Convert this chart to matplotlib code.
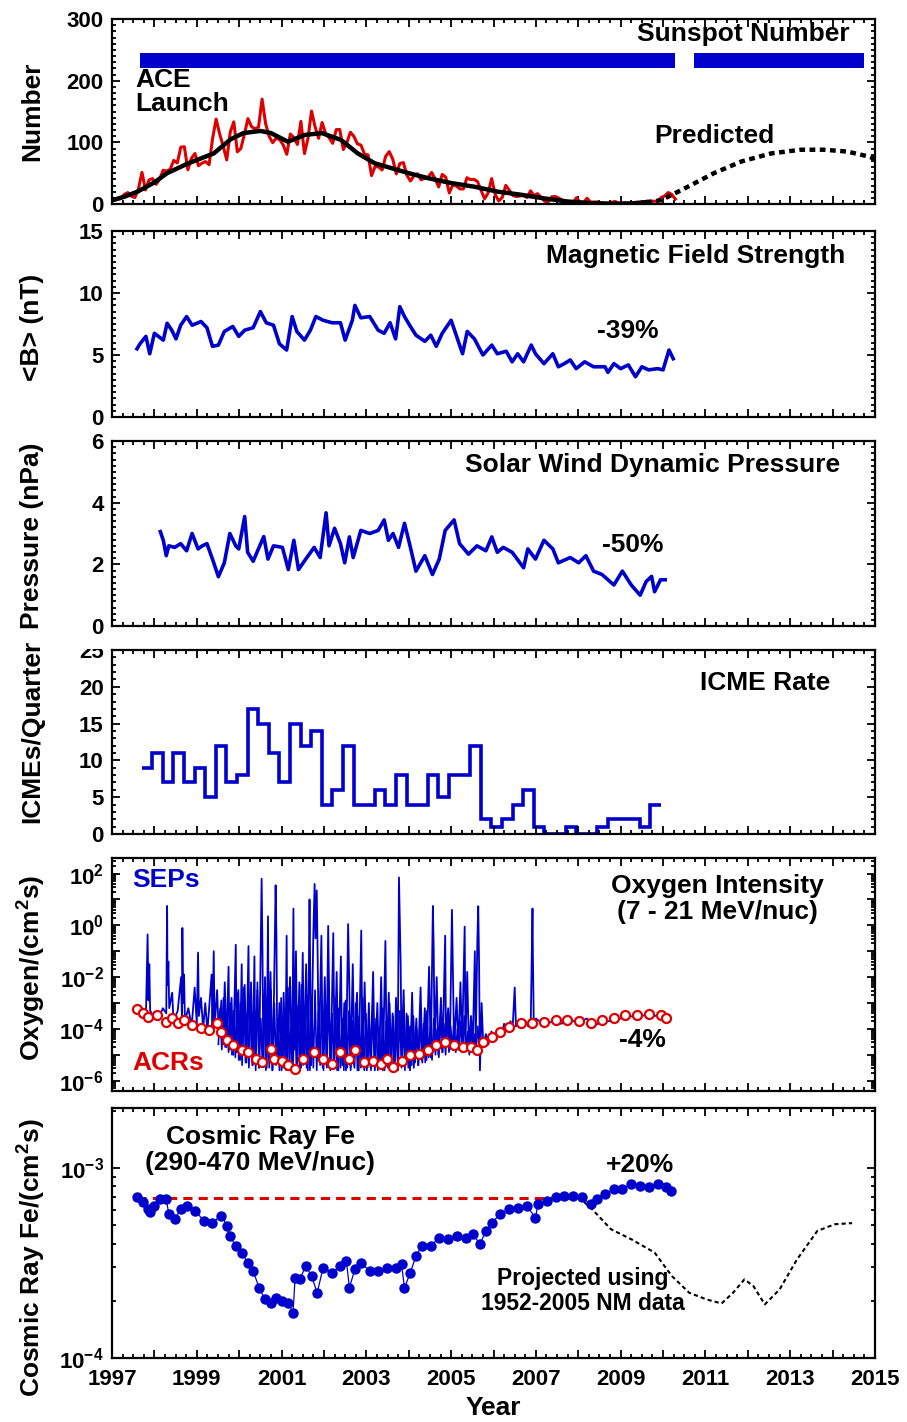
import numpy as np
import matplotlib.pyplot as plt
from matplotlib.ticker import MultipleLocator, LogLocator, FuncFormatter, NullFormatter
from matplotlib.transforms import Bbox, TransformedBbox

plt.rcParams['font.family'] = ['Liberation Sans', 'DejaVu Sans']
plt.rcParams['font.weight'] = 'bold'
plt.rcParams['axes.labelweight'] = 'bold'
plt.rcParams['mathtext.fontset'] = 'custom'
plt.rcParams['mathtext.rm'] = 'Liberation Sans:bold'
plt.rcParams['mathtext.bf'] = 'Liberation Sans:bold'
plt.rcParams['mathtext.it'] = 'Liberation Sans:bold'
plt.rcParams['mathtext.default'] = 'rm'
plt.rcParams['axes.linewidth'] = 1.6

BLUE = '#0000cc'
RED = '#dd0000'

# ---- sunspot number (monthly, 1997 Jan - 2010 Apr) ----
ssn_start = 1997.04
ssn_monthly = [5.7, 7.6, 8.7, 15.5, 18.5, 12.7, 10.4, 24.4, 51.3, 22.8, 39.0, 41.2,
               31.9, 40.3, 54.8, 53.4, 56.3, 70.7, 66.6, 92.2, 92.9, 55.5, 74.0, 81.9,
               62.0, 66.3, 68.8, 63.7, 106.4, 137.7, 113.5, 93.7, 71.5, 116.7, 133.2, 84.6,
               90.1, 112.9, 138.5, 125.5, 121.6, 124.9, 170.1, 130.5, 109.7, 99.4, 106.8, 104.4,
               95.6, 80.6, 113.5, 107.7, 96.6, 134.0, 81.8, 106.4, 150.7, 125.5, 106.5, 132.2,
               114.1, 107.4, 98.4, 120.7, 120.8, 88.3, 99.6, 116.4, 109.6, 97.5, 95.5, 80.8,
               79.7, 46.0, 61.1, 60.0, 55.2, 77.4, 85.0, 72.7, 48.8, 65.6, 67.2, 46.7,
               37.3, 45.8, 49.1, 39.3, 41.5, 43.2, 51.1, 40.9, 27.7, 48.0, 43.5, 17.9,
               31.3, 29.2, 24.5, 24.4, 42.6, 39.6, 39.9, 36.4, 22.1, 8.5, 18.0, 41.2,
               15.3, 4.9, 10.6, 30.2, 22.3, 13.9, 12.2, 12.9, 14.4, 10.5, 21.4, 13.6,
               16.8, 10.7, 4.5, 3.4, 11.7, 12.1, 9.7, 6.0, 2.4, 0.9, 1.7, 10.1,
               3.3, 2.1, 9.3, 2.9, 3.2, 3.4, 0.5, 0.5, 1.1, 2.9, 4.1, 0.8,
               1.5, 1.4, 0.7, 1.2, 2.9, 2.6, 3.5, 0.0, 4.2, 4.6, 4.2, 10.6,
               13.1, 18.6, 15.4, 7.9]
ssn_smooth_yr = [1997.0, 1997.3, 1997.6, 1998.0, 1998.3, 1998.8, 1999.4, 1999.8, 2000.1, 2000.5,
                 2000.75, 2001.15, 2001.55, 2001.95, 2002.4, 2002.8, 2003.2, 2003.6, 2004.0, 2004.45,
                 2005.0, 2005.55, 2006.1, 2006.65, 2007.2, 2007.75, 2008.3, 2008.85, 2009.3, 2009.6]
ssn_smooth = [6, 12, 20, 35, 50, 66, 82, 105, 115, 118.5,
              115, 101, 112, 115, 104, 82, 66, 58, 50, 42,
              34, 28, 20, 15, 9, 4, 1.5, 0.5, 1, 3]
ssn_pred_yr = [2009.6, 2009.95, 2010.5, 2011.2, 2011.85, 2012.55, 2013.25, 2013.8, 2014.35, 2014.85, 2015.0]
ssn_pred = [3, 6, 25, 50, 69, 82, 88, 88, 85, 77, 73]
ace_bars = [(1997.66, 2010.28), (2010.72, 2014.74)]
ace_bar_range = (221, 245)

# ---- magnetic field strength ----
b_yr = [1997.59, 1997.66, 1997.80, 1997.89, 1998.00, 1998.21, 1998.30, 1998.41, 1998.51, 1998.62,
        1998.76, 1998.89, 1999.10, 1999.24, 1999.37, 1999.51, 1999.65, 1999.85, 1999.99, 2000.13,
        2000.33, 2000.50, 2000.64, 2000.81, 2000.95, 2001.12, 2001.25, 2001.36, 2001.54, 2001.68,
        2001.81, 2001.98, 2002.19, 2002.39, 2002.50, 2002.67, 2002.73, 2002.87, 2003.08, 2003.28,
        2003.42, 2003.56, 2003.69, 2003.79, 2003.90, 2004.04, 2004.17, 2004.38, 2004.52, 2004.65,
        2004.79, 2005.00, 2005.13, 2005.27, 2005.38, 2005.55, 2005.75, 2005.96, 2006.09, 2006.30,
        2006.44, 2006.57, 2006.71, 2006.89, 2006.99, 2007.19, 2007.40, 2007.53, 2007.67, 2007.81,
        2007.95, 2008.15, 2008.36, 2008.63, 2008.70, 2008.84, 2009.00, 2009.18, 2009.35, 2009.50,
        2009.66, 2009.87, 2010.00, 2010.14, 2010.24]
b_nt = [5.5, 5.9, 6.5, 5.1, 6.75, 6.2, 7.56, 7.0, 6.3, 7.4,
        8.1, 7.4, 7.7, 7.2, 5.7, 5.8, 6.9, 7.3, 6.5, 7.0,
        7.2, 8.5, 7.6, 7.4, 5.9, 5.4, 8.1, 6.9, 6.2, 7.0,
        8.1, 7.8, 7.6, 7.6, 6.2, 7.8, 9.0, 8.0, 8.1, 7.0,
        6.75, 7.6, 6.3, 8.9, 8.1, 7.3, 6.6, 6.1, 6.6, 5.7,
        6.75, 7.8, 6.5, 5.1, 6.9, 6.3, 5.0, 5.8, 5.1, 5.3,
        4.45, 5.1, 4.45, 5.8, 5.1, 4.3, 5.1, 4.05, 4.3, 4.6,
        3.9, 4.45, 4.05, 4.05, 3.6, 4.3, 3.9, 4.2, 3.25, 4.05,
        3.8, 3.9, 3.8, 5.4, 4.7]

# ---- solar wind dynamic pressure ----
p_yr = [1998.14, 1998.21, 1998.28, 1998.34, 1998.48, 1998.62, 1998.76, 1998.89, 1999.03, 1999.13,
        1999.24, 1999.37, 1999.51, 1999.65, 1999.78, 1999.92, 1999.99, 2000.13, 2000.20, 2000.33,
        2000.47, 2000.58, 2000.68, 2000.81, 2001.02, 2001.16, 2001.29, 2001.40, 2001.57, 2001.77,
        2001.91, 2002.05, 2002.12, 2002.25, 2002.39, 2002.49, 2002.60, 2002.69, 2002.87, 2003.08,
        2003.28, 2003.42, 2003.52, 2003.63, 2003.76, 2003.90, 2004.04, 2004.17, 2004.38, 2004.56,
        2004.72, 2004.86, 2005.07, 2005.20, 2005.41, 2005.61, 2005.82, 2005.96, 2006.09, 2006.23,
        2006.44, 2006.71, 2006.81, 2006.99, 2007.19, 2007.40, 2007.53, 2007.81, 2008.01, 2008.18,
        2008.36, 2008.56, 2008.84, 2009.04, 2009.25, 2009.46, 2009.60, 2009.73, 2009.80, 2009.94,
        2010.05]
p_npa = [3.06, 2.78, 2.28, 2.6, 2.55, 2.67, 2.44, 3.0, 2.5, 2.6,
         2.67, 2.17, 1.6, 2.05, 3.0, 2.6, 2.5, 3.55, 2.39, 2.1,
         2.55, 2.9, 2.17, 2.6, 2.55, 1.83, 2.78, 1.83, 2.17, 2.55,
         2.22, 3.67, 2.6, 3.17, 2.67, 2.05, 2.89, 2.22, 3.1, 3.0,
         3.1, 3.44, 2.78, 3.0, 2.55, 3.33, 2.55, 1.78, 2.28, 1.67,
         2.17, 3.1, 3.44, 2.67, 2.33, 2.6, 2.44, 2.89, 2.39, 2.55,
         2.39, 1.89, 2.5, 2.17, 2.78, 2.5, 2.05, 2.22, 2.05, 2.28,
         1.78, 1.67, 1.33, 1.78, 1.33, 1.0, 1.44, 1.61, 1.11, 1.5,
         1.5]

# ---- ICME rate per quarter ----
icme_start = 1997.70
icme_rate = [9, 11, 7, 11, 7, 9, 5, 12, 7, 8,
             17, 15, 11, 7, 15, 12, 14, 4, 6, 12,
             4, 4, 6, 4, 8, 4, 4, 8, 5, 8,
             8, 12, 2, 1, 2, 4, 6, 1, 0, 0,
             1, 0, 0, 1, 2, 2, 2, 1, 4]

# ---- oxygen intensity: SEP events (log10 values) ----
sep_yr = [1997.60, 1997.70, 1997.80, 1997.84, 1997.85, 1997.86, 1997.88, 1997.90, 1998.00, 1998.10,
          1998.20, 1998.28, 1998.30, 1998.31, 1998.33, 1998.35, 1998.42, 1998.45, 1998.55, 1998.63,
          1998.65, 1998.66, 1998.68, 1998.70, 1998.72, 1998.80, 1998.88, 1998.95, 1999.00, 1999.03,
          1999.05, 1999.10, 1999.15, 1999.20, 1999.25, 1999.35, 1999.37, 1999.40, 1999.42, 1999.48,
          1999.52, 1999.58, 1999.62, 1999.66, 1999.70, 1999.75, 1999.77, 1999.82, 1999.86, 1999.92,
          1999.94, 1999.98, 2000.02, 2000.06, 2000.08, 2000.13, 2000.17, 2000.22, 2000.24, 2000.28,
          2000.32, 2000.36, 2000.38, 2000.43, 2000.47, 2000.50, 2000.53, 2000.55, 2000.57, 2000.61,
          2000.65, 2000.68, 2000.70, 2000.74, 2000.78, 2000.82, 2000.86, 2000.88, 2000.90, 2000.95,
          2001.00, 2001.05, 2001.09, 2001.12, 2001.14, 2001.20, 2001.25, 2001.28, 2001.30, 2001.34,
          2001.37, 2001.42, 2001.46, 2001.50, 2001.53, 2001.58, 2001.62, 2001.66, 2001.68, 2001.70,
          2001.75, 2001.78, 2001.80, 2001.83, 2001.85, 2001.88, 2001.94, 2001.97, 2002.02, 2002.06,
          2002.10, 2002.13, 2002.16, 2002.22, 2002.25, 2002.30, 2002.34, 2002.40, 2002.43, 2002.48,
          2002.52, 2002.57, 2002.60, 2002.63, 2002.68, 2002.72, 2002.78, 2002.82, 2002.88, 2002.91,
          2002.96, 2003.01, 2003.06, 2003.10, 2003.16, 2003.20, 2003.26, 2003.30, 2003.35, 2003.39,
          2003.45, 2003.48, 2003.53, 2003.57, 2003.62, 2003.66, 2003.70, 2003.74, 2003.77, 2003.79,
          2003.81, 2003.83, 2003.88, 2003.92, 2003.98, 2004.03, 2004.08, 2004.12, 2004.18, 2004.22,
          2004.28, 2004.32, 2004.38, 2004.42, 2004.48, 2004.52, 2004.57, 2004.59, 2004.61, 2004.66,
          2004.70, 2004.76, 2004.80, 2004.86, 2004.88, 2004.93, 2004.97, 2005.02, 2005.04, 2005.07,
          2005.13, 2005.17, 2005.22, 2005.26, 2005.32, 2005.34, 2005.38, 2005.42, 2005.47, 2005.51,
          2005.56, 2005.58, 2005.62, 2005.64, 2005.66, 2005.68, 2005.72, 2005.76, 2005.82, 2005.88,
          2005.95, 2006.02, 2006.10, 2006.18, 2006.25, 2006.33, 2006.40, 2006.45, 2006.50, 2006.53,
          2006.60, 2006.68, 2006.75, 2006.82, 2006.88, 2006.92, 2006.93, 2006.95, 2007.00, 2007.20,
          2007.40, 2007.60, 2007.80, 2008.00, 2008.20, 2008.40, 2008.60, 2008.80, 2009.00, 2009.20,
          2009.40, 2009.60, 2009.80, 2010.00, 2010.15]
sep_log = [-3.30, -3.45, -3.50, -0.35, -1.60, -2.90, -1.50, -3.30, -3.55, -3.60,
           -3.20, -3.40, 0.75, -2.30, -1.40, -3.20, -2.60, -3.70, -3.30, -2.00,
           -3.60, -0.10, -3.00, -1.90, -3.70, -3.20, -3.90, -2.40, -3.80, -1.05,
           -3.50, -2.80, -4.00, -3.00, -4.10, -1.90, -4.00, -1.00, -3.90, -2.50,
           -4.30, -2.90, -4.60, -2.20, -4.70, -1.60, -4.80, -2.80, -5.00, -0.75,
           -4.90, -2.50, -5.20, -1.50, -5.00, -2.30, -5.30, -0.80, -5.00, -2.20,
           -5.40, -1.20, -5.20, -2.50, -5.50, -1.70, 1.80, -1.00, -5.30, -2.00,
           -5.50, 0.35, -5.20, -1.80, -5.60, -2.80, 1.55, -0.50, -5.30, -3.00,
           -5.60, -2.60, -5.50, -0.40, -5.30, -2.00, -5.50, 0.65, -4.80, -1.00,
           -5.40, -2.20, -5.50, -1.06, -5.30, -1.50, -5.60, 1.00, -2.50, -5.40,
           -0.30, 1.60, -0.50, 1.35, -1.00, -5.20, -0.40, -5.50, -2.00, -5.40,
           -0.02, -3.50, -5.50, -0.30, -5.20, -1.80, -5.60, -1.20, -5.40, -3.00,
           -5.60, 0.05, -2.50, -5.50, -1.50, -5.50, -2.60, -5.60, -0.20, -5.30,
           -2.20, -5.60, -3.00, -5.50, -1.80, -5.60, -3.00, -5.50, -2.00, -5.60,
           -0.60, -5.40, -2.60, -5.60, -3.40, -5.50, -2.80, -5.30, 1.85, 0.20,
           -1.50, -5.00, -2.50, -5.40, -3.50, -5.60, -2.60, -5.50, -3.60, -5.40,
           -2.40, -5.30, -3.20, -5.20, -1.60, -5.10, 0.75, -1.00, -4.80, -2.00,
           -5.00, -2.80, -4.90, -0.40, -4.70, -3.20, -4.80, 0.60, -1.50, -4.70,
           -2.80, -4.80, -2.20, -4.60, -0.05, -4.50, -1.80, -4.80, -3.50, -4.70,
           -1.00, -4.60, -0.50, 0.74, -1.50, -5.60, -3.00, -4.70, -4.20, -4.60,
           -4.10, -4.40, -4.00, -4.30, -3.80, -4.10, -3.70, -4.00, -2.40, -3.90,
           -3.70, -3.95, -3.70, -3.90, -3.60, 0.65, -1.20, -3.80, -3.60, -3.85,
           -3.70, -3.80, -3.65, -3.75, -3.60, -3.85, -3.70, -3.70, -3.60, -3.50,
           -3.55, -3.45, -3.50, -3.45, -3.55]
# dense low-level fluctuations, every 0.04 yr from 1999.51
sep_dense_start = 1999.51
sep_dense_log = [-4.6, -3.2, -4.8, -2.8, -4.7, -3.5, -4.9, -3.0, -5.0, -3.3, -5.1, -2.6,
                 -5.2, -3.0, -5.4, -2.4, -5.3, -3.4, -5.5, -2.7, -5.4, -3.1, -5.6, -2.2, -5.5,
                 -3.6, -5.4, -2.9, -5.6, -3.3, -5.5, -2.5, -5.6, -3.0, -5.4, -3.8, -5.6,
                 -2.8, -5.5, -3.2, -5.6, -2.4, -5.4, -3.5, -5.6, -2.9, -5.5, -3.1, -5.6,
                 -2.3, -5.4, -3.4, -5.5, -2.7, -5.6, -3.0, -5.5, -2.5, -5.6, -3.3, -5.4, -2.9,
                 -5.6, -3.1, -5.5, -2.6, -5.6, -3.4, -5.4, -2.8, -5.6, -3.2, -5.5, -3.6,
                 -5.6, -2.9, -5.5, -3.3, -5.6, -3.7, -5.4, -3.0, -5.6, -3.5, -5.5, -2.8, -5.6,
                 -3.4, -5.5, -3.8, -5.6, -3.1, -5.4, -3.6, -5.6, -3.9, -5.5, -3.2, -5.6,
                 -3.7, -5.5, -3.0, -5.6, -3.5, -5.4, -3.9, -5.6, -3.3, -5.5, -3.8, -5.6, -3.4,
                 -5.5, -3.9, -5.4, -3.5, -5.3, -4.0, -5.4, -3.6, -5.2, -3.8, -5.3, -3.3,
                 -5.1, -3.9, -5.2, -3.6, -5.0, -4.0, -5.1, -3.5, -4.9, -3.8, -5.0, -3.4, -4.9,
                 -3.9, -4.8, -3.6, -4.9, -4.0, -4.8, -3.7, -4.9, -3.5, -4.8, -4.1, -5.0,
                 -3.8, -4.9, -4.2, -4.8, -3.9, -4.7]
# ---- oxygen intensity: ACRs ----
acr_yr = [1997.59, 1997.73, 1997.86, 1998.07, 1998.28, 1998.41, 1998.55, 1998.69, 1998.89, 1999.10,
          1999.30, 1999.48, 1999.58, 1999.72, 1999.85, 2000.06, 2000.20, 2000.40, 2000.54, 2000.74,
          2000.81, 2001.02, 2001.16, 2001.32, 2001.50, 2001.77, 2001.98, 2002.19, 2002.39, 2002.60,
          2002.73, 2002.94, 2003.15, 2003.35, 2003.49, 2003.63, 2003.83, 2004.04, 2004.24, 2004.45,
          2004.65, 2004.86, 2005.07, 2005.27, 2005.48, 2005.61, 2005.75, 2005.96, 2006.16, 2006.37,
          2006.64, 2006.92, 2007.19, 2007.47, 2007.74, 2008.01, 2008.29, 2008.56, 2008.84, 2009.11,
          2009.39, 2009.66, 2009.94, 2010.07]
acr_log = [-3.24, -3.40, -3.53, -3.46, -3.72, -3.59, -3.79, -3.66, -3.85, -3.98,
           -4.05, -3.76, -4.11, -4.44, -4.63, -4.83, -4.89, -5.15, -5.28, -4.76,
           -5.15, -5.22, -5.41, -5.54, -5.15, -4.89, -5.15, -5.35, -4.89, -5.15,
           -4.83, -5.28, -5.22, -5.35, -5.15, -5.48, -5.22, -5.02, -4.96, -4.83,
           -4.63, -4.50, -4.63, -4.70, -4.70, -4.83, -4.50, -4.31, -4.11, -3.92,
           -3.79, -3.79, -3.72, -3.66, -3.66, -3.68, -3.79, -3.66, -3.59, -3.46,
           -3.46, -3.44, -3.46, -3.59]

# ---- cosmic ray Fe ----
fe_yr = [1997.59, 1997.73, 1997.84, 1997.89, 1998.00, 1998.14, 1998.28, 1998.34, 1998.48, 1998.62,
         1998.76, 1998.96, 1999.17, 1999.37, 1999.58, 1999.72, 1999.78, 1999.92, 2000.06, 2000.20,
         2000.33, 2000.47, 2000.61, 2000.74, 2000.88, 2001.02, 2001.16, 2001.27, 2001.32, 2001.43,
         2001.57, 2001.71, 2001.84, 2001.98, 2002.19, 2002.39, 2002.53, 2002.60, 2002.73, 2002.87,
         2003.08, 2003.28, 2003.49, 2003.69, 2003.83, 2003.90, 2004.04, 2004.17, 2004.31, 2004.52,
         2004.72, 2004.93, 2005.13, 2005.34, 2005.52, 2005.68, 2005.82, 2005.96, 2006.16, 2006.37,
         2006.57, 2006.78, 2006.99, 2007.05, 2007.26, 2007.47, 2007.67, 2007.88, 2008.08, 2008.29,
         2008.43, 2008.63, 2008.84, 2009.04, 2009.25, 2009.46, 2009.66, 2009.87, 2010.07, 2010.18]
fe_log = [-3.155, -3.18, -3.217, -3.234, -3.199, -3.164, -3.164, -3.243, -3.27, -3.217,
          -3.20, -3.225, -3.278, -3.287, -3.25, -3.305, -3.357, -3.41, -3.445, -3.498,
          -3.542, -3.63, -3.692, -3.71, -3.683, -3.70, -3.71, -3.762, -3.577, -3.586,
          -3.516, -3.569, -3.657, -3.525, -3.55, -3.516, -3.489, -3.63, -3.533, -3.498,
          -3.542, -3.542, -3.525, -3.525, -3.507, -3.63, -3.55, -3.463, -3.41, -3.41,
          -3.366, -3.375, -3.357, -3.366, -3.349, -3.401, -3.331, -3.287, -3.243, -3.217,
          -3.208, -3.199, -3.261, -3.19, -3.173, -3.155, -3.146, -3.146, -3.155, -3.19,
          -3.164, -3.137, -3.111, -3.111, -3.085, -3.093, -3.102, -3.085, -3.102, -3.12]
fe_ref_level = 6.95e-4
fe_ref_span = (1997.59, 2008.01)
fe_proj_yr = [2008.01, 2008.29, 2008.77, 2009.25, 2009.80, 2010.21, 2010.62, 2011.03, 2011.38, 2011.65,
              2011.92, 2012.13, 2012.40, 2012.75, 2013.16, 2013.64, 2014.05, 2014.46]
fe_proj_log = [-3.155, -3.208, -3.322, -3.375, -3.445, -3.569, -3.657, -3.692, -3.713, -3.657,
               -3.586, -3.621, -3.718, -3.639, -3.481, -3.331, -3.296, -3.29]

# ---------------- figure ----------------
fig = plt.figure(figsize=(9.07, 14.22), dpi=100)
W, H = 907.0, 1422.0
left_px, right_px = 112, 875
boxes = [(19, 204), (231, 417), (441, 626), (650, 834), (858, 1091), (1108, 1358)]
axes = [fig.add_axes([left_px / W, 1 - b / H, (right_px - left_px) / W, (b - t) / H]) for t, b in boxes]

TXT = 19
YLAB = 19


def year_fmt(v, pos):
    y = int(round(v))
    return str(y) if y % 2 == 1 else ''


for i, ax in enumerate(axes):
    ax.set_xlim(1997, 2015)
    ax.xaxis.set_major_locator(MultipleLocator(1))
    ax.xaxis.set_minor_locator(MultipleLocator(0.25))
    ax.tick_params(which='both', direction='in', top=True, right=True, width=1.3, labelsize=16)
    ax.tick_params(which='major', length=6, pad=6)
    ax.tick_params(which='minor', length=3)
    if i < 5:
        ax.tick_params(labelbottom=False)
    else:
        ax.xaxis.set_major_formatter(FuncFormatter(year_fmt))
        ax.tick_params(axis='x', pad=8)

# panel 1: sunspot number
ax = axes[0]
for a, b in ace_bars:
    ax.fill_between([a, b], ace_bar_range[0], ace_bar_range[1], color=BLUE, lw=0)
ssn_yr = ssn_start + np.arange(len(ssn_monthly)) / 12.0
ax.plot(ssn_yr, ssn_monthly, color=RED, lw=2.2)
ax.plot(ssn_smooth_yr, ssn_smooth, color='black', lw=3.2)
ax.plot(ssn_pred_yr, ssn_pred, color='black', lw=3.2, dashes=(1.3, 1.0))
ax.set_ylim(0, 300)
ax.yaxis.set_major_locator(MultipleLocator(100))
ax.yaxis.set_minor_locator(MultipleLocator(10))
ax.text(0.967, 0.919, 'Sunspot Number', transform=ax.transAxes, ha='right', va='center', fontsize=TXT)
ax.text(1997.54, 181, 'ACE\nLaunch', ha='left', va='center', fontsize=TXT, linespacing=1.0)
ax.text(2011.2, 110, 'Predicted', ha='center', va='center', fontsize=TXT)
ax.set_ylabel('Number', fontsize=YLAB, va='center')

# panel 2: magnetic field
ax = axes[1]
ax.plot(b_yr, b_nt, color=BLUE, lw=2.6)
ax.set_ylim(0, 15)
ax.yaxis.set_major_locator(MultipleLocator(5))
ax.yaxis.set_minor_locator(MultipleLocator(0.5))
ax.text(0.961, 0.866, 'Magnetic Field Strength', transform=ax.transAxes, ha='right', va='center', fontsize=TXT)
ax.text(2009.17, 6.9, '-39%', ha='center', va='center', fontsize=TXT)
ax.set_ylabel('<B> (nT)', fontsize=YLAB, va='center')

# panel 3: pressure
ax = axes[2]
ax.plot(p_yr, p_npa, color=BLUE, lw=2.6)
ax.set_ylim(0, 6)
ax.yaxis.set_major_locator(MultipleLocator(2))
ax.yaxis.set_minor_locator(MultipleLocator(0.2))
ax.text(0.954, 0.870, 'Solar Wind Dynamic Pressure', transform=ax.transAxes, ha='right', va='center', fontsize=TXT)
ax.text(2009.29, 2.63, '-50%', ha='center', va='center', fontsize=TXT)
ax.set_ylabel('Pressure (nPa)', fontsize=YLAB, va='center')

# panel 4: ICME rate
ax = axes[3]
edges = icme_start + 0.25 * np.arange(len(icme_rate) + 1)
ax.stairs(icme_rate, edges, color=BLUE, lw=2.6, baseline=None)
ax.set_ylim(0, 25)
ax.yaxis.set_major_locator(MultipleLocator(5))
ax.yaxis.set_minor_locator(MultipleLocator(1))
ax.text(0.941, 0.82, 'ICME Rate', transform=ax.transAxes, ha='right', va='center', fontsize=TXT)
ax.set_ylabel('ICMEs/Quarter', fontsize=YLAB, va='center')
# the top "25" label is half hidden under the panel above
clip = TransformedBbox(Bbox([[0, 0], [1, 1 - 649 / H]]), fig.transFigure)
for tk in ax.yaxis.get_major_ticks():
    tk.label1.set_clip_box(clip)
    tk.label1.set_clip_on(True)

# panel 5: oxygen
ax = axes[4]
ax.set_yscale('log')
sep_dense_yr = sep_dense_start + 0.04 * np.arange(len(sep_dense_log))
ax.plot(sep_dense_yr, 10.0 ** np.array(sep_dense_log), color=BLUE, lw=1.2)
ax.plot(sep_yr, 10.0 ** np.array(sep_log), color=BLUE, lw=1.3)
ax.plot(acr_yr, 10.0 ** np.array(acr_log), ls='none', marker='o', ms=6.5, mfc='white', mec=RED, mew=1.6)
ax.set_ylim(4e-7, 4e2)
ax.yaxis.set_major_locator(LogLocator(base=10, numticks=20))
ax.yaxis.set_minor_locator(LogLocator(base=10, subs=np.arange(2, 10), numticks=20))
ax.yaxis.set_minor_formatter(NullFormatter())


def even_decades(v, pos):
    e = int(round(np.log10(v)))
    return f'$10^{{{e}}}$' if e % 2 == 0 else ''


ax.yaxis.set_major_formatter(FuncFormatter(even_decades))
ax.text(0.794, 0.824, 'Oxygen Intensity\n(7 - 21 MeV/nuc)', transform=ax.transAxes, ha='center', va='center',
        fontsize=TXT, linespacing=1.1)
ax.text(1997.47, 56, 'SEPs', color=BLUE, ha='left', va='center', fontsize=TXT)
ax.text(1997.49, 4.8e-6, 'ACRs', color=RED, ha='left', va='center', fontsize=TXT)
ax.text(2009.52, 3.7e-5, '-4%', ha='center', va='center', fontsize=TXT)
ax.set_ylabel('Oxygen/(cm$^2$s)', fontsize=YLAB, va='center')

# panel 6: cosmic ray Fe
ax = axes[5]
ax.set_yscale('log')
ax.plot(fe_ref_span, [fe_ref_level, fe_ref_level], color=RED, lw=2.2, dashes=(3, 2))
ax.plot(fe_proj_yr, 10.0 ** np.array(fe_proj_log), color='black', lw=1.5, dashes=(2, 1.5))
ax.plot(fe_yr, 10.0 ** np.array(fe_log), color=BLUE, lw=0.9, marker='o', ms=6.5, mec=BLUE, mfc=BLUE)
ax.set_ylim(1e-4, 2.07e-3)
ax.yaxis.set_major_locator(LogLocator(base=10, numticks=10))
ax.yaxis.set_minor_locator(LogLocator(base=10, subs=np.arange(2, 10), numticks=10))
ax.yaxis.set_minor_formatter(NullFormatter())
ax.yaxis.set_major_formatter(FuncFormatter(lambda v, p: f'$10^{{{int(round(np.log10(v)))}}}$'))
ax.text(0.194, 0.832, 'Cosmic Ray Fe\n(290-470 MeV/nuc)', transform=ax.transAxes, ha='center', va='center',
        fontsize=TXT, linespacing=1.1)
ax.text(2009.45, 10 ** -2.985, '+20%', ha='center', va='center', fontsize=TXT)
ax.text(2008.1, 2.25e-4, 'Projected using\n1952-2005 NM data', ha='center', va='center', fontsize=16.5,
        linespacing=1.1)
ax.set_ylabel('Cosmic Ray Fe/(cm$^2$s)', fontsize=YLAB, va='center')
ax.set_xlabel('Year', fontsize=YLAB, labelpad=4)

label_y = [0.5, 0.48, 0.49, 0.56, 0.53, 0.40]
for ax, ly in zip(axes, label_y):
    ax.yaxis.set_label_coords(-0.105, ly)

fig.savefig('out.png', dpi=100)
